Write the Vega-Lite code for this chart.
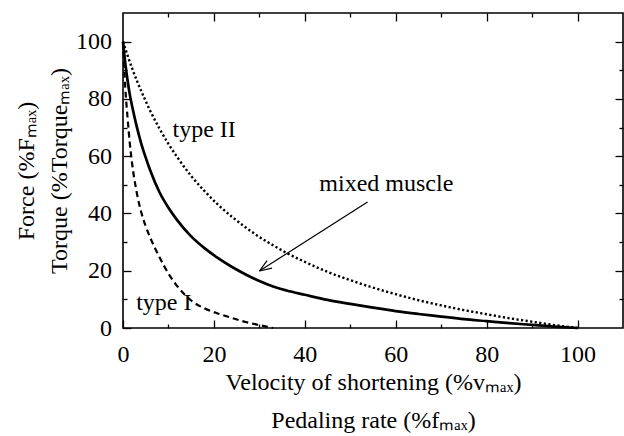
{
  "$schema": "https://vega.github.io/schema/vega-lite/v6.json",
  "width": 500,
  "height": 315,
  "autosize": "none",
  "padding": {"left": 123, "top": 13, "right": 1, "bottom": 108},
  "background": "white",
  "config": {
    "view": {"stroke": "black", "strokeWidth": 1.6},
    "font": "Liberation Serif, Times New Roman, serif",
    "text": {"font": "Liberation Serif, Times New Roman, serif"},
    "axis": {
      "labelFont": "Liberation Serif, Times New Roman, serif",
      "labelFontSize": 24,
      "labelColor": "black",
      "titleFont": "Liberation Serif, Times New Roman, serif",
      "titleFontSize": 24,
      "titleFontWeight": "normal",
      "titleColor": "black",
      "tickColor": "black",
      "tickWidth": 1.3,
      "grid": false,
      "domain": false,
      "labelFlush": false,
      "labelOverlap": false
    }
  },
  "datasets": {
    "curves": [
      {"v": 0, "f": 100, "series": "type I"},
      {"v": 0.5, "f": 84, "series": "type I"},
      {"v": 1, "f": 73.5, "series": "type I"},
      {"v": 1.5, "f": 64.5, "series": "type I"},
      {"v": 2, "f": 57.5, "series": "type I"},
      {"v": 3, "f": 47.5, "series": "type I"},
      {"v": 4, "f": 40.5, "series": "type I"},
      {"v": 5, "f": 35.5, "series": "type I"},
      {"v": 6, "f": 31.5, "series": "type I"},
      {"v": 7, "f": 28, "series": "type I"},
      {"v": 8, "f": 24.8, "series": "type I"},
      {"v": 10, "f": 19, "series": "type I"},
      {"v": 12, "f": 14.5, "series": "type I"},
      {"v": 15, "f": 9.6, "series": "type I"},
      {"v": 18, "f": 6.8, "series": "type I"},
      {"v": 21, "f": 5.0, "series": "type I"},
      {"v": 24, "f": 3.5, "series": "type I"},
      {"v": 27, "f": 2.1, "series": "type I"},
      {"v": 30, "f": 1.0, "series": "type I"},
      {"v": 33, "f": 0, "series": "type I"},
      {"v": 0, "f": 100, "series": "mixed"},
      {"v": 0.5, "f": 92.5, "series": "mixed"},
      {"v": 1, "f": 86.5, "series": "mixed"},
      {"v": 1.5, "f": 81.5, "series": "mixed"},
      {"v": 2, "f": 77.5, "series": "mixed"},
      {"v": 3, "f": 70.5, "series": "mixed"},
      {"v": 4, "f": 64.5, "series": "mixed"},
      {"v": 5, "f": 59.5, "series": "mixed"},
      {"v": 6, "f": 55, "series": "mixed"},
      {"v": 8, "f": 47.5, "series": "mixed"},
      {"v": 10, "f": 42, "series": "mixed"},
      {"v": 12, "f": 37.5, "series": "mixed"},
      {"v": 15, "f": 32, "series": "mixed"},
      {"v": 18, "f": 27.8, "series": "mixed"},
      {"v": 21, "f": 24.3, "series": "mixed"},
      {"v": 24, "f": 21.3, "series": "mixed"},
      {"v": 27, "f": 18.7, "series": "mixed"},
      {"v": 30, "f": 16.4, "series": "mixed"},
      {"v": 33, "f": 14.5, "series": "mixed"},
      {"v": 36, "f": 13.1, "series": "mixed"},
      {"v": 40, "f": 11.6, "series": "mixed"},
      {"v": 45, "f": 9.8, "series": "mixed"},
      {"v": 50, "f": 8.4, "series": "mixed"},
      {"v": 55, "f": 7.1, "series": "mixed"},
      {"v": 60, "f": 5.9, "series": "mixed"},
      {"v": 65, "f": 4.9, "series": "mixed"},
      {"v": 70, "f": 4.0, "series": "mixed"},
      {"v": 75, "f": 3.1, "series": "mixed"},
      {"v": 80, "f": 2.4, "series": "mixed"},
      {"v": 85, "f": 1.7, "series": "mixed"},
      {"v": 90, "f": 1.1, "series": "mixed"},
      {"v": 95, "f": 0.5, "series": "mixed"},
      {"v": 100, "f": 0, "series": "mixed"},
      {"v": 0, "f": 100, "series": "type II"},
      {"v": 1, "f": 95.2, "series": "type II"},
      {"v": 2, "f": 90.7, "series": "type II"},
      {"v": 3, "f": 86.6, "series": "type II"},
      {"v": 4, "f": 82.8, "series": "type II"},
      {"v": 5, "f": 79.2, "series": "type II"},
      {"v": 6, "f": 75.8, "series": "type II"},
      {"v": 8, "f": 69.7, "series": "type II"},
      {"v": 10, "f": 64.3, "series": "type II"},
      {"v": 12, "f": 59.5, "series": "type II"},
      {"v": 15, "f": 53.1, "series": "type II"},
      {"v": 18, "f": 47.7, "series": "type II"},
      {"v": 21, "f": 42.9, "series": "type II"},
      {"v": 24, "f": 38.8, "series": "type II"},
      {"v": 27, "f": 35.1, "series": "type II"},
      {"v": 30, "f": 31.8, "series": "type II"},
      {"v": 33, "f": 28.9, "series": "type II"},
      {"v": 36, "f": 26.2, "series": "type II"},
      {"v": 40, "f": 23.1, "series": "type II"},
      {"v": 45, "f": 19.6, "series": "type II"},
      {"v": 50, "f": 16.7, "series": "type II"},
      {"v": 55, "f": 14.1, "series": "type II"},
      {"v": 60, "f": 11.8, "series": "type II"},
      {"v": 65, "f": 9.7, "series": "type II"},
      {"v": 70, "f": 7.9, "series": "type II"},
      {"v": 75, "f": 6.25, "series": "type II"},
      {"v": 80, "f": 4.8, "series": "type II"},
      {"v": 85, "f": 3.4, "series": "type II"},
      {"v": 90, "f": 2.2, "series": "type II"},
      {"v": 95, "f": 1.0, "series": "type II"},
      {"v": 100, "f": 0, "series": "type II"}
    ],
    "labels": [
      {"v": 10.9, "f": 66.7, "label": "type II"},
      {"v": 2.9, "f": 6.2, "label": "type I"},
      {"v": 43.2, "f": 48.0, "label": "mixed muscle"}
    ],
    "shaft": [
      {"v": 53.8, "f": 44.0, "v2": 30.0, "f2": 19.9}
    ],
    "head": [
      {"v": 30.0, "f": 19.9, "v2": 32.8, "f2": 20.9},
      {"v": 30.0, "f": 19.9, "v2": 31.7, "f2": 23.5}
    ]
  },
  "resolve": {"axis": {"x": "independent", "y": "independent"}},
  "layer": [
    {
      "data": {"name": "curves"},
      "transform": [{"filter": "datum.series === 'type I'"}],
      "mark": {"type": "line", "interpolate": "monotone", "color": "black", "strokeWidth": 2.2, "strokeDash": [6, 4]},
      "encoding": {
        "x": {"field": "v", "type": "quantitative",
          "scale": {"domain": [0, 110], "nice": false, "zero": false},
          "axis": {"orient": "bottom", "values": [0, 20, 40, 60, 80, 100], "tickSize": -8, "labelPadding": 22,
            "title": ["Velocity of shortening (%vₘₐₓ)", "Pedaling rate (%fₘₐₓ)"], "titleLineHeight": 38, "titlePadding": 4}},
        "y": {"field": "f", "type": "quantitative",
          "scale": {"domain": [0, 110], "nice": false, "zero": false},
          "axis": {"orient": "left", "values": [0, 20, 40, 60, 80, 100], "tickSize": -8, "labelPadding": 19.5,
            "title": ["Force (%Fₘₐₓ)", "Torque (%Torqueₘₐₓ)"], "titleLineHeight": 33, "titlePadding": 4}}
      }
    },
    {
      "data": {"name": "curves"},
      "transform": [{"filter": "datum.series === 'mixed'"}],
      "mark": {"type": "line", "interpolate": "monotone", "color": "black", "strokeWidth": 2.7},
      "encoding": {
        "x": {"field": "v", "type": "quantitative", "axis": null},
        "y": {"field": "f", "type": "quantitative", "axis": null}
      }
    },
    {
      "data": {"name": "curves"},
      "transform": [{"filter": "datum.series === 'type II'"}],
      "mark": {"type": "line", "interpolate": "monotone", "color": "black", "strokeWidth": 2.4, "strokeDash": [2.2, 2.4], "strokeCap": "butt"},
      "encoding": {
        "x": {"field": "v", "type": "quantitative", "axis": null},
        "y": {"field": "f", "type": "quantitative", "axis": null}
      }
    },
    {
      "data": {"name": "labels"},
      "mark": {"type": "text", "align": "left", "baseline": "alphabetic", "font": "Liberation Serif, Times New Roman, serif", "fontSize": 24, "color": "black"},
      "encoding": {
        "x": {"field": "v", "type": "quantitative",
          "axis": {"orient": "bottom", "values": [10, 30, 50, 70, 90], "tickSize": -4, "labels": false, "title": null}},
        "y": {"field": "f", "type": "quantitative",
          "axis": {"orient": "left", "values": [10, 30, 50, 70, 90], "tickSize": -4, "labels": false, "title": null}},
        "text": {"field": "label"}
      }
    },
    {
      "data": {"name": "shaft"},
      "mark": {"type": "rule", "color": "black", "strokeWidth": 1.2},
      "encoding": {
        "x": {"field": "v", "type": "quantitative",
          "axis": {"orient": "top", "values": [20, 40, 60, 80, 100], "tickSize": -8, "labels": false, "title": null}},
        "y": {"field": "f", "type": "quantitative",
          "axis": {"orient": "right", "values": [20, 40, 60, 80, 100], "tickSize": -8, "labels": false, "title": null}},
        "x2": {"field": "v2"},
        "y2": {"field": "f2"}
      }
    },
    {
      "data": {"name": "head"},
      "mark": {"type": "rule", "color": "black", "strokeWidth": 1.2},
      "encoding": {
        "x": {"field": "v", "type": "quantitative",
          "axis": {"orient": "top", "values": [10, 30, 50, 70, 90], "tickSize": -4, "labels": false, "title": null}},
        "y": {"field": "f", "type": "quantitative",
          "axis": {"orient": "right", "values": [10, 30, 50, 70, 90], "tickSize": -4, "labels": false, "title": null}},
        "x2": {"field": "v2"},
        "y2": {"field": "f2"}
      }
    }
  ]
}
